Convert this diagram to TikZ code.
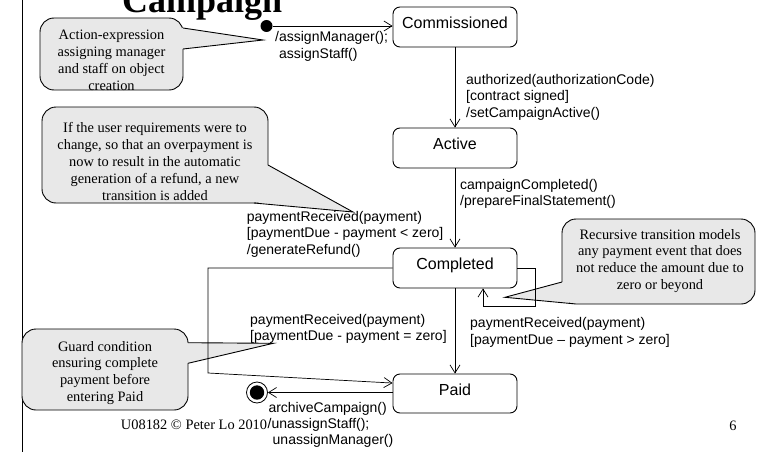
\documentclass[tikz,border=0pt]{standalone}
\usepackage{fontspec}
\setmainfont{Liberation Serif}
\newfontfamily\arialf{Liberation Sans}
\usetikzlibrary{arrows.meta,calc}
\definecolor{bubfill}{RGB}{232,232,232}
\begin{document}
\begin{tikzpicture}[x=1pt,y=-1pt,
  stbox/.style={draw, line width=0.9pt, rounded corners=7pt, minimum width=124pt, minimum height=40pt, inner sep=0pt, font=\arialf\fontsize{16}{19}\selectfont, text height=12pt, text depth=8.5pt},
  lbl/.style={anchor=north west, inner sep=0pt, align=left, font=\arialf\fontsize{14}{16.5}\selectfont},
  btxt/.style={inner sep=0pt, align=center, font=\fontsize{14.4}{16.9}\selectfont},
  bub/.style={draw, line width=0.9pt, fill=bubfill, rounded corners=14pt},
  wedgeline/.style={line width=0.9pt},
  arr/.style={line width=0.7pt, -{Straight Barb[length=8pt,width=10pt]}},
]
\useasboundingbox (0,0) rectangle (757,452);

% slide margin line and title
\draw[line width=0.8pt] (22,0) -- (22,452);
\node[anchor=base west, inner sep=0pt, font=\bfseries\fontsize{36}{40}\selectfont] (title) at (122,13) {Campaign};

% callout 1
\draw[bub] (40,18) rectangle (183,90);
\fill[bubfill] (182,28) -- (263,40) -- (182,49) -- cycle;
\draw[wedgeline] (183,28) -- (263,40) -- (183,49);
\node[btxt] (b1) at (111.5,60) {Action-expression\\assigning manager\\and staff on object\\creation};

% callout 2
\draw[bub] (42,107) rectangle (268,203);
\fill[bubfill] (267.2,165) -- (353,212) -- (254,202.3) -- cycle;
\draw[wedgeline] (268,165) -- (353,212) -- (254,203);
\node[btxt] (b2) at (155,161.5) {If the user requirements were to\\change, so that an overpayment is\\now to result in the automatic\\generation of a refund, a new\\transition is added};

% callout 3
\draw[bub] (562,219) rectangle (755,304);
\fill[bubfill] (562.8,282) -- (505,297.3) -- (573,303) -- cycle;
\draw[wedgeline] (562,282) -- (505,297.3) -- (573,303.7);
\node[btxt] (b3) at (660,261) {Recursive transition models\\any payment event that does\\not reduce the amount due to\\zero or beyond};

% callout 4
\draw[bub] (22,329) rectangle (188,410);
\fill[bubfill] (187.2,342.7) -- (273.3,343.3) -- (187.2,363.3) -- cycle;
\draw[wedgeline] (188,342.7) -- (273.3,343.3) -- (188,363.3);
\node[btxt] (b4) at (105,373) {Guard condition\\ensuring complete\\payment before\\entering Paid};

% states
\node[stbox] (comm) at (455,27) {Commissioned};
\node[stbox] (act) at (455,148) {Active};
\node[stbox] (compl) at (455,268) {Completed};
\node[stbox, minimum height=39pt] (paid) at (455,393.5) {Paid};

% pseudo states
\node[circle, fill, inner sep=0pt, minimum size=12pt] (init) at (266.5,26) {};
\node[circle, draw, line width=0.8pt, inner sep=0pt, minimum size=21pt] (final) at (257,392.5) {};
\fill (final.center) circle (7.2pt);

% helper points
\coordinate (sl1) at (535,268);
\coordinate (sl2) at (535,306);
\coordinate (sl3) at (483,306);
\coordinate (ll1) at (208,268);
\coordinate (ll2) at (208,373);

% transitions
\draw[arr] (init) -- (comm.west |- init);
\draw[arr] (comm) -- (act);
\draw[arr] (act) -- (compl);
\draw[arr] (compl) -- (paid);
\draw[arr] (compl.east) -- (sl1) -- (sl2) -- (sl3) -- (sl3 |- compl.south);
\draw[arr] (compl.west) -- (ll1) -- (ll2) -- ($(paid.north west)+(0,9.5)$);
\draw[arr] (paid.west |- final) -- (final);

% transition labels
\node[lbl] (l1) at (275,31.5) {/assignManager();\\\hspace*{4pt}assignStaff()};
\node[lbl] (l2) at (466,74) {authorized(authorizationCode)\\{[contract signed]}\\/setCampaignActive()};
\node[lbl] (l3) at (460,179) {campaignCompleted()\\/prepareFinalStatement()};
\node[lbl] (l4) at (246.7,211) {paymentReceived(payment)\\{[paymentDue - payment < zero]}\\/generateRefund()};
\node[lbl, font=\arialf\fontsize{14}{15.8}\selectfont] (l5) at (250,314) {paymentReceived(payment)\\{[paymentDue - payment = zero]}};
\node[lbl] (l6) at (470,317.5) {paymentReceived(payment)\\{[paymentDue – payment > zero]}};
\node[lbl, font=\arialf\fontsize{14}{16}\selectfont] (l7) at (267.5,402.5) {\hspace*{0.8pt}archiveCampaign()\\/unassignStaff();\\\hspace*{5pt}unassignManager()};

% footer
\node[anchor=base east, inner sep=0pt, font=\fontsize{14.4}{17}\selectfont] (foot) at (267.3,429) {U08182 © Peter Lo 2010};
\node[anchor=base, inner sep=0pt, font=\fontsize{14.4}{17}\selectfont] (pg) at (733,430) {6};
\end{tikzpicture}
\end{document}
